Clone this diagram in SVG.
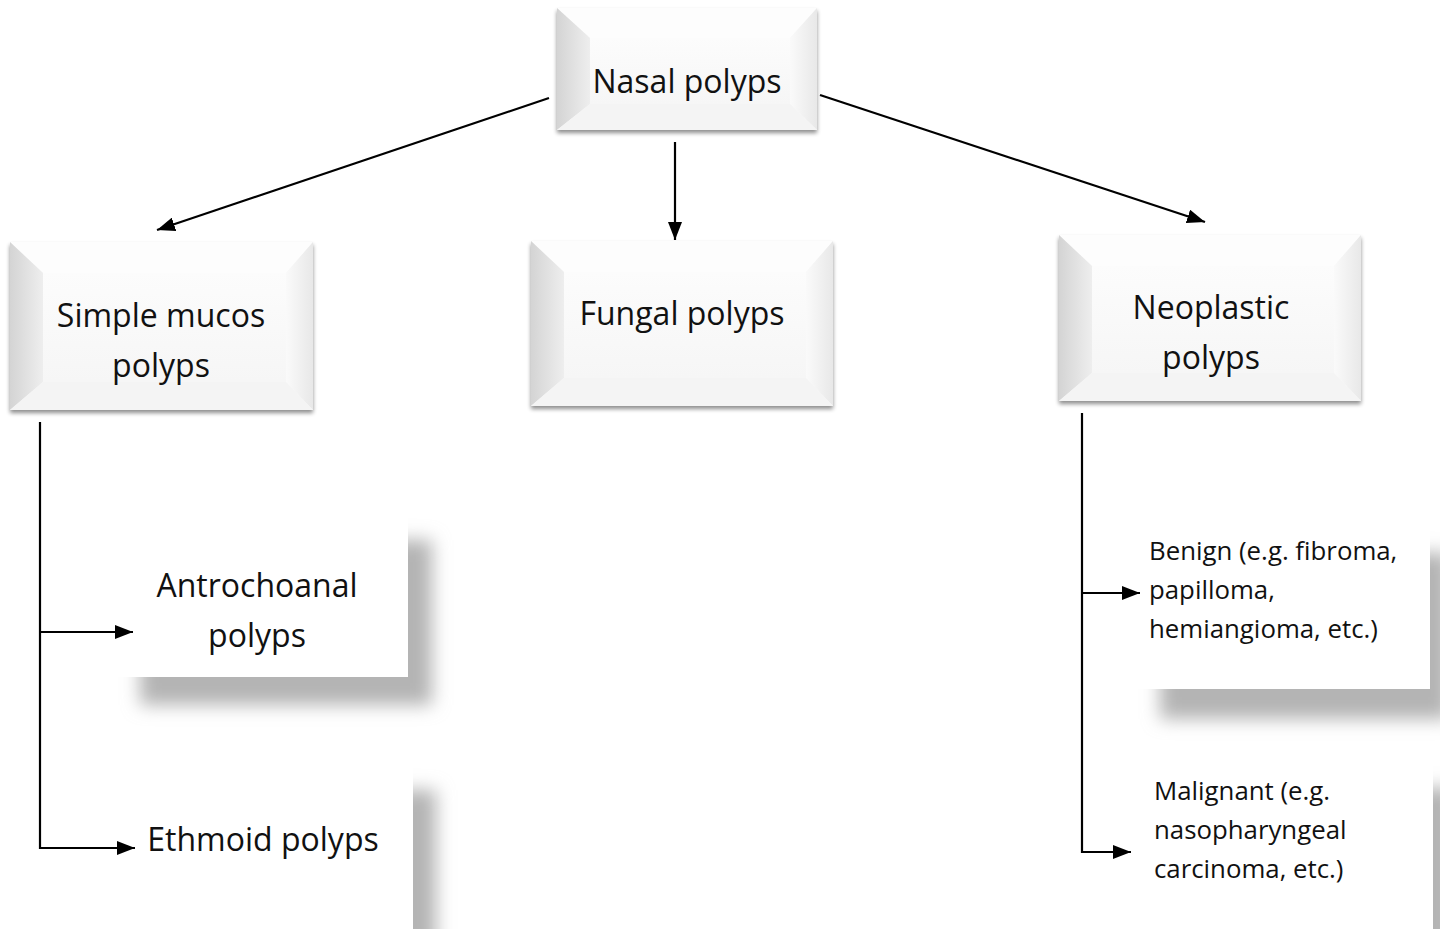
<svg xmlns="http://www.w3.org/2000/svg" width="1440" height="929" viewBox="0 0 1440 929">
<style>
.big{font-family:"Open Sans","Liberation Sans",sans-serif;font-size:32px;fill:#111;text-anchor:middle}
.small{font-family:"Open Sans","Liberation Sans",sans-serif;font-size:25.8px;fill:#111}
.con{stroke:#000;stroke-width:2.2;fill:none}
</style>
<defs>
<marker id="ah" viewBox="0 0 18 14" refX="18" refY="7" markerWidth="18" markerHeight="14" markerUnits="userSpaceOnUse" orient="auto">
<path d="M0,0 L18,7 L0,14 z" fill="#000"/>
</marker>
<linearGradient id="lb" x1="0" y1="0" x2="1" y2="0">
<stop offset="0" stop-color="#d4d4d4"/><stop offset="1" stop-color="#eeeeee"/>
</linearGradient>
<linearGradient id="rb" x1="0" y1="0" x2="1" y2="0">
<stop offset="0" stop-color="#fafafa"/><stop offset="1" stop-color="#e8e8e8"/>
</linearGradient>
<linearGradient id="face" x1="0" y1="0" x2="0" y2="1">
<stop offset="0" stop-color="#fcfcfc"/><stop offset="1" stop-color="#f6f6f6"/>
</linearGradient>
<filter id="sm" x="-10%" y="-10%" width="120%" height="130%">
<feGaussianBlur in="SourceAlpha" stdDeviation="2"/>
<feOffset dx="0" dy="3"/>
<feComponentTransfer><feFuncA type="linear" slope="0.45"/></feComponentTransfer>
<feMerge><feMergeNode/><feMergeNode in="SourceGraphic"/></feMerge>
</filter>
<filter id="big" x="-20%" y="-20%" width="150%" height="160%">
<feGaussianBlur stdDeviation="9"/>
</filter>
</defs>
<rect width="1440" height="929" fill="#fff"/>

<g id="nasal">
<g filter="url(#sm)">
<rect x="557" y="8" width="260" height="122" fill="#f8f8f8"/>
</g>
<polygon points="557,8 817,8 790,38 590,38" fill="#fdfdfd"/>
<polygon points="557,8 590,38 590,104 557,130" fill="url(#lb)"/>
<polygon points="817,8 817,130 790,104 790,38" fill="url(#rb)"/>
<polygon points="557,130 590,104 790,104 817,130" fill="#f4f4f4"/>
<rect x="590" y="38" width="200" height="66" fill="url(#face)"/>
<text class="big" x="687" y="93">Nasal polyps</text>
</g>

<g id="simple">
<g filter="url(#sm)">
<rect x="10" y="242" width="303" height="168" fill="#f8f8f8"/>
</g>
<polygon points="10,242 313,242 286,273 43,273" fill="#fdfdfd"/>
<polygon points="10,242 43,273 43,382 10,410" fill="url(#lb)"/>
<polygon points="313,242 313,410 286,382 286,273" fill="url(#rb)"/>
<polygon points="10,410 43,382 286,382 313,410" fill="#f4f4f4"/>
<rect x="43" y="273" width="243" height="109" fill="url(#face)"/>
<text class="big" x="161" y="327">Simple mucos</text>
<text class="big" x="161" y="377">polyps</text>
</g>

<g id="fungal">
<g filter="url(#sm)">
<rect x="531" y="241" width="302" height="165" fill="#f8f8f8"/>
</g>
<polygon points="531,241 833,241 806,272 564,272" fill="#fdfdfd"/>
<polygon points="531,241 564,272 564,378 531,406" fill="url(#lb)"/>
<polygon points="833,241 833,406 806,378 806,272" fill="url(#rb)"/>
<polygon points="531,406 564,378 806,378 833,406" fill="#f4f4f4"/>
<rect x="564" y="272" width="242" height="106" fill="url(#face)"/>
<text class="big" x="682" y="325">Fungal polyps</text>
</g>

<g id="neoplastic">
<g filter="url(#sm)">
<rect x="1059" y="235" width="302" height="166" fill="#f8f8f8"/>
</g>
<polygon points="1059,235 1361,235 1334,266 1092,266" fill="#fdfdfd"/>
<polygon points="1059,235 1092,266 1092,373 1059,401" fill="url(#lb)"/>
<polygon points="1361,235 1361,401 1334,373 1334,266" fill="url(#rb)"/>
<polygon points="1059,401 1092,373 1334,373 1361,401" fill="#f4f4f4"/>
<rect x="1092" y="266" width="242" height="107" fill="url(#face)"/>
<text class="big" x="1211" y="319">Neoplastic</text>
<text class="big" x="1211" y="369">polyps</text>
</g>

<g id="antrochoanal">
<rect x="140" y="540" width="292" height="165" fill="#b4b4b4" filter="url(#big)"/>
<rect x="112" y="514" width="296" height="163" fill="#fff"/>
<text class="big" x="257" y="597">Antrochoanal</text>
<text class="big" x="257" y="647">polyps</text>
</g>

<g id="ethmoid">
<rect x="140" y="790" width="296" height="160" fill="#b4b4b4" filter="url(#big)"/>
<rect x="112" y="764" width="301" height="175" fill="#fff"/>
<text class="big" x="263" y="851">Ethmoid polyps</text>
</g>

<g id="benign">
<rect x="1160" y="553" width="290" height="166" fill="#b4b4b4" filter="url(#big)"/>
<rect x="1132" y="525" width="298" height="164" fill="#fff"/>
<text class="small" x="1149" y="560">Benign (e.g. fibroma,</text>
<text class="small" x="1149" y="599">papilloma,</text>
<text class="small" x="1149" y="638">hemiangioma, etc.)</text>
</g>

<g id="malignant">
<rect x="1165" y="788" width="290" height="170" fill="#b4b4b4" filter="url(#big)"/>
<rect x="1138" y="762" width="295" height="180" fill="#fff"/>
<text class="small" x="1154" y="800">Malignant (e.g.</text>
<text class="small" x="1154" y="839">nasopharyngeal</text>
<text class="small" x="1154" y="878">carcinoma, etc.)</text>
</g>

<g id="connectors">
<line class="con" x1="549" y1="98" x2="157" y2="230" marker-end="url(#ah)"/>
<line class="con" x1="675" y1="142" x2="675" y2="240" marker-end="url(#ah)"/>
<line class="con" x1="820" y1="95" x2="1205" y2="222" marker-end="url(#ah)"/>
<polyline class="con" points="40,422 40,848 135,848" marker-end="url(#ah)"/>
<line class="con" x1="40" y1="632" x2="133" y2="632" marker-end="url(#ah)"/>
<polyline class="con" points="1082,413 1082,852 1131,852" marker-end="url(#ah)"/>
<line class="con" x1="1082" y1="593" x2="1140" y2="593" marker-end="url(#ah)"/>
</g>
</svg>
